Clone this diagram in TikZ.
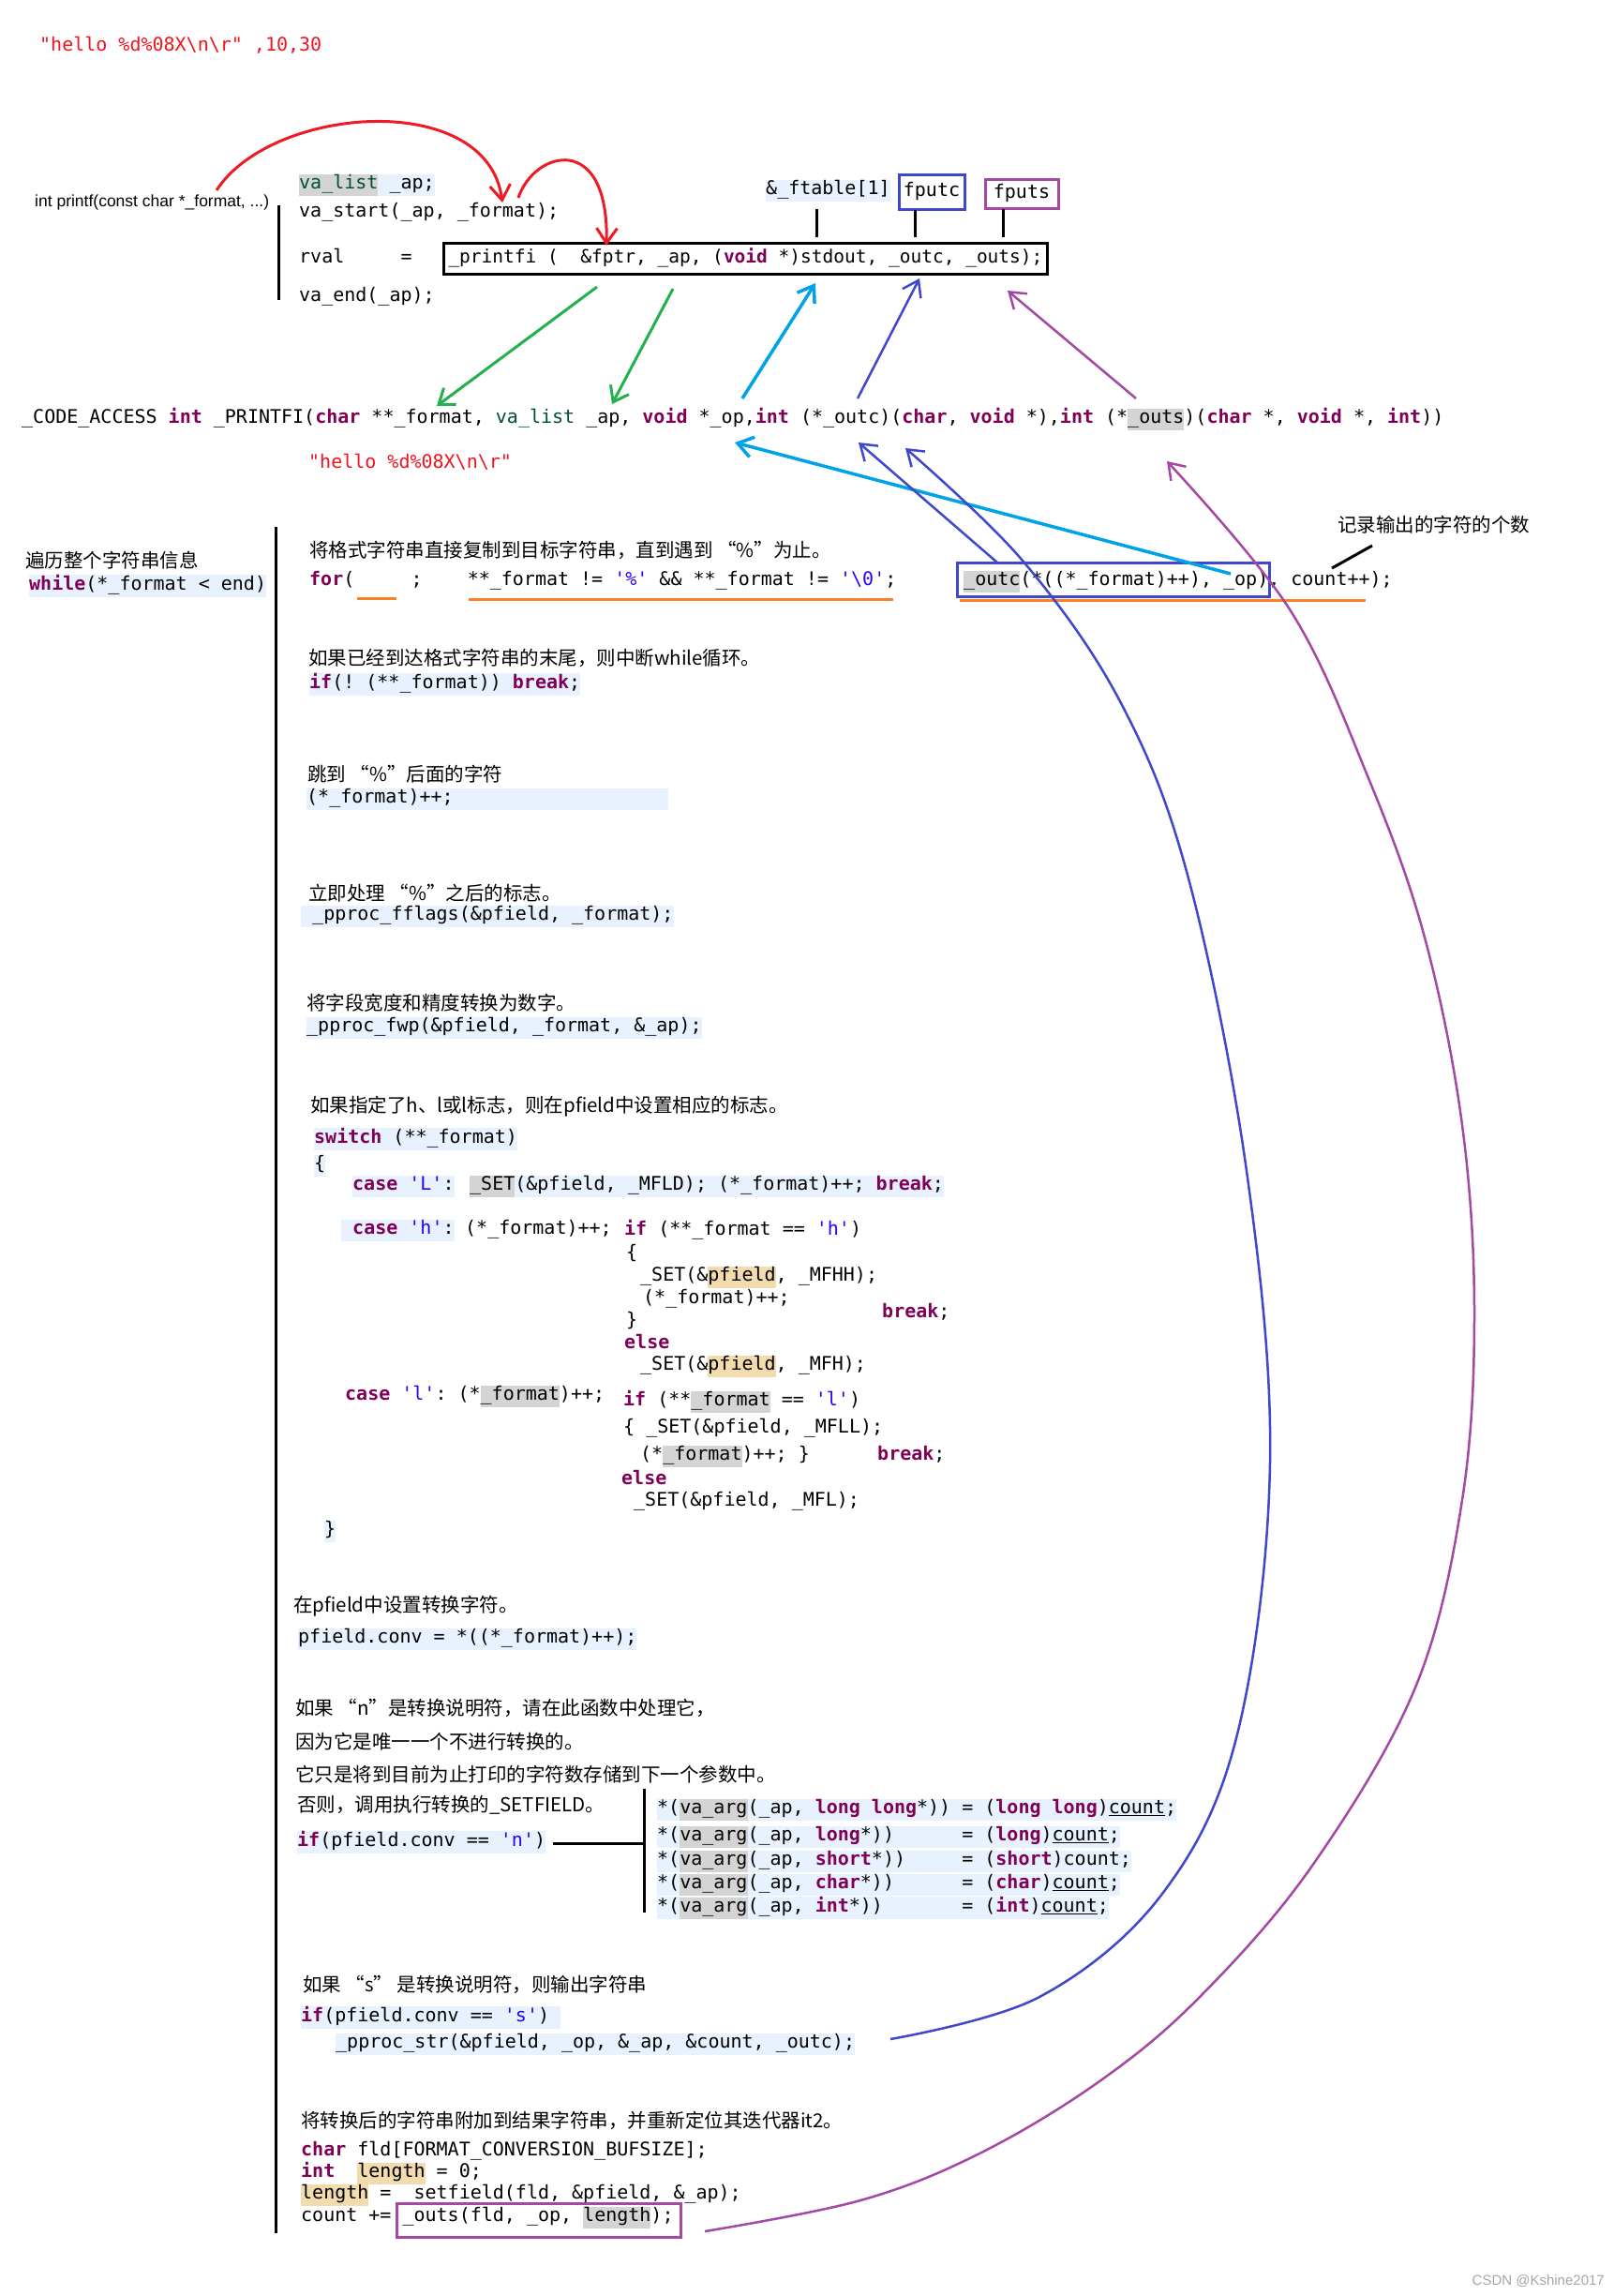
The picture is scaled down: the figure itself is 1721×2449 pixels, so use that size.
\documentclass[tikz,border=0pt]{standalone}
\usepackage{fontspec}
\setmainfont{Liberation Sans}
\setmonofont{DejaVu Sans Mono}
\newfontfamily\cjkf{Noto Sans CJK SC}
\usetikzlibrary{arrows.meta}
\definecolor{kwc}{HTML}{7F0055}
\definecolor{tyc}{HTML}{005032}
\definecolor{litc}{HTML}{2A00FF}
\definecolor{redt}{HTML}{F0141E}
\definecolor{hlblue}{HTML}{E8F2FE}
\definecolor{hlgray}{HTML}{D4D4D4}
\definecolor{hlor}{HTML}{F2DCAE}
\definecolor{redc}{HTML}{ED1C24}
\definecolor{grnc}{HTML}{22B14C}
\definecolor{cyac}{HTML}{00A2E8}
\definecolor{bluc}{HTML}{3F48CC}
\definecolor{purc}{HTML}{A349A4}
\definecolor{orac}{HTML}{FF7F27}
\newcommand\codef{\ttfamily\fontsize{20}{23}\selectfont}
\newcommand\codefb{\ttfamily\fontsize{19.5}{23}\selectfont}
\newcommand\cnfont{\cjkf\fontsize{20.5}{24}\selectfont}
\newcommand\kwd[1]{\textcolor{kwc}{\bfseries #1}}
\newcommand\typ[1]{\textcolor{tyc}{#1}}
\newcommand\lit[1]{\textcolor{litc}{#1}}
\newcommand\hlt[2]{{\setlength{\fboxsep}{0pt}\colorbox{#1}{\strut #2}}}
\newcommand\undl[1]{\underline{#1}}
\newcommand\spc[1]{\hspace*{#1\fontdimen2\font}}
\begin{document}
\begin{tikzpicture}[x=1pt,y=-1pt,
  code/.style={anchor=west,inner sep=0pt,font=\codef,execute at begin node=\strut},
  cn/.style={anchor=west,inner sep=0pt,font=\cnfont},
  bar/.style={line width=3pt,black},
  redarr/.style={draw=redc,line width=3pt,-{Straight Barb[length=16pt,width=22pt]}},
  grnarr/.style={draw=grnc,line width=3pt,-{Straight Barb[length=15pt,width=22pt]}},
  cyaarr/.style={draw=cyac,line width=3.5pt,-{Straight Barb[length=16pt,width=22pt]}},
  bluarr/.style={draw=bluc,line width=2.5pt,-{Straight Barb[length=16pt,width=22pt]}},
  purarr/.style={draw=purc,line width=2.5pt,-{Straight Barb[length=16pt,width=22pt]}},
  oraline/.style={draw=orac,line width=3pt},
]
\fill[white] (0,0) rectangle (1721,2449);
\useasboundingbox (0,0) rectangle (1721,2449);

% ---------- top block ----------
\node[code,text=redt] (hello) at (42,50) {"hello \%d\%08X\textbackslash n\textbackslash r" ,10,30};
\node[anchor=west,inner sep=0pt,font=\fontsize{17.5}{20}\selectfont] (sig) at (37,216) {int printf(const char *\_format, ...)};
\coordinate (bar1a) at (297,219);
\coordinate (bar1b) at (297,320);
\draw[bar] (bar1a) -- (bar1b);
\node[code] (valist) at (319,197) {\hlt{hlgray}{\typ{va\_list}}\hlt{hlblue}{\ \_ap;}};
\node[code] (vastart) at (319,227) {va\_start(\_ap, \_format);};
\node[code] (rval) at (319,276) {rval\spc{5}=};
\node[code,font=\codefb,draw=black,line width=3pt,inner xsep=5pt,inner ysep=5pt] (pfi) at (472,276)
  {\_printfi (\spc{2}\&fptr, \_ap, (\kwd{void} *)stdout, \_outc, \_outs);};
\node[code] (vaend) at (319,317) {va\_end(\_ap);};
\node[code,fill=hlblue] (ftab) at (817,203) {\&\_ftable[1]};
\node[code,anchor=center,draw=bluc,line width=3pt,minimum width=70pt,minimum height=37pt] (fputc) at (994,204.5) {fputc};
\node[code,anchor=center,draw=purc,line width=3pt,minimum width=78pt,minimum height=31pt] (fputs) at (1090,206.5) {fputs};
\coordinate (t1a) at (871,223); \coordinate (t1b) at (871,253);
\coordinate (t2a) at (976,224); \coordinate (t2b) at (976,253);
\coordinate (t3a) at (1070,223); \coordinate (t3b) at (1070,253);
\draw[bar] (t1a) -- (t1b);
\draw[bar] (t2a) -- (t2b);
\draw[bar] (t3a) -- (t3b);

% red arcs
\coordinate (r1s) at (231,203); \coordinate (r1e) at (536,216);
\coordinate (r2s) at (553,211); \coordinate (r2e) at (647,262);
\draw[redarr] (r1s) .. controls (290,112) and (520,95) .. (r1e);
\draw[redarr] (r2s) .. controls (570,160) and (650,140) .. (r2e);

% _PRINTFI line
\node[code] (pf) at (23,447) {\_CODE\_ACCESS \kwd{int} \_PRINTFI(\kwd{char} **\_format, \typ{va\_list} \_ap, \kwd{void} *\_op,\kwd{int} (*\_outc)(\kwd{char}, \kwd{void} *),\kwd{int} (*\hlt{hlgray}{\_outs})(\kwd{char} *, \kwd{void} *, \kwd{int}))};
\node[code,text=redt] (hello2) at (329,495) {"hello \%d\%08X\textbackslash n\textbackslash r"};

% short arrows
\coordinate (g1s) at (637,306); \coordinate (g1e) at (466,433);
\coordinate (g2s) at (718,308); \coordinate (g2e) at (653,431);
\coordinate (c1s) at (792,425); \coordinate (c1e) at (870,302);
\coordinate (b1s) at (915,425); \coordinate (b1e) at (981,297);
\coordinate (p1s) at (1212,425); \coordinate (p1e) at (1075,310);
\draw[grnarr] (g1s) -- (g1e);
\draw[grnarr] (g2s) -- (g2e);
\draw[cyaarr] (c1s) -- (c1e);
\draw[bluarr] (b1s) -- (b1e);
\draw[purarr] (p1s) -- (p1e);

% ---------- main loop ----------
\node[cn] (trav) at (27,598) {遍历整个字符串信息};
\node[code,fill=hlblue] (while) at (31,625) {\kwd{while}(*\_format < end)};
\coordinate (bar2a) at (294,562);
\coordinate (bar2b) at (294,2382);
\draw[bar] (bar2a) -- (bar2b);

\node[cn] (c1) at (330,587) {将格式字符串直接复制到目标字符串，直到遇到 “\%”为止。};
\node[code] (for) at (330,620) {\kwd{for}(\spc{5};\spc{4}**\_format != \lit{'\%'} \&\& **\_format != \lit{'\textbackslash 0'};};
\node[code] (outc) at (1028,620) {\hlt{hlgray}{\_outc}(*((*\_format)++), \_op), count++);};
\node[draw=bluc,line width=3pt,minimum width=333pt,minimum height=36pt,inner sep=0pt] (outcbox) at (1187.5,618) {};
\coordinate (o1a) at (381,638); \coordinate (o1b) at (423,638);
\coordinate (o2a) at (500,639); \coordinate (o2b) at (953,639);
\coordinate (o3a) at (1024,640); \coordinate (o3b) at (1457,640);
\draw[oraline] (o1a) -- (o1b);
\draw[oraline] (o2a) -- (o2b);
\draw[oraline] (o3a) -- (o3b);
\node[cn] (note) at (1427,560) {记录输出的字符的个数};
\coordinate (nl1) at (1464,582); \coordinate (nl2) at (1421,606);
\draw[line width=3pt] (nl1) -- (nl2);

\node[cn] (c2) at (329,702) {如果已经到达格式字符串的末尾，则中断while循环。};
\node[code,fill=hlblue] (ifbrk) at (330,730) {\kwd{if}(! (**\_format)) \kwd{break};};
\node[cn] (c3) at (328,826) {跳到 “\%”后面的字符};
\node[code,fill=hlblue] (inc1) at (327,852) {(*\_format)++;\spc{19}};
\node[cn] (c4) at (329,953) {立即处理 “\%”之后的标志。};
\node[code,fill=hlblue] (fflags) at (321,977) {\ \_pproc\_fflags(\&pfield, \_format);};
\node[cn] (c5) at (327,1070) {将字段宽度和精度转换为数字。};
\node[code,fill=hlblue] (fwp) at (327,1096) {\_pproc\_fwp(\&pfield, \_format, \&\_ap);};

% switch
\node[cn] (c6) at (331,1180) {如果指定了h、l或l标志，则在pfield中设置相应的标志。};
\node[code,fill=hlblue] (sw) at (335,1215) {\kwd{switch} (**\_format)};
\node[code,fill=hlblue] (lb) at (335,1243) {\{};
\node[code,fill=hlblue] (caseL) at (376,1265) {\kwd{case} \lit{'L'}:};
\node[code,fill=hlblue] (setL) at (501,1265) {\hlt{hlgray}{\_SET}(\&pfield, \_MFLD); (*\_format)++; \kwd{break};};
\node[code,fill=hlblue] (caseh) at (364,1312) {\ \kwd{case} \lit{'h'}:};
\node[code] (inch) at (496,1312) {(*\_format)++;};
\node[code] (ifh) at (666,1313) {\kwd{if} (**\_format == \lit{'h'})};
\node[code] (lbh) at (668,1338) {\{};
\node[code] (setHH) at (683,1362) {\_SET(\&\hlt{hlor}{pfield}, \_MFHH);};
\node[code] (inch2) at (686,1386) {(*\_format)++;};
\node[code] (brkh) at (941,1401) {\kwd{break};};
\node[code] (rbh) at (668,1410) {\}};
\node[code] (elseh) at (666,1434) {\kwd{else}};
\node[code] (setH) at (683,1457) {\_SET(\&\hlt{hlor}{pfield}, \_MFH);};
\node[code] (casel) at (368,1489) {\kwd{case} \lit{'l'}: (*\hlt{hlgray}{\_format})++;};
\node[code] (ifl) at (665,1495) {\kwd{if} (**\hlt{hlgray}{\_format} == \lit{'l'})};
\node[code] (setLL) at (665,1524) {\{ \_SET(\&pfield, \_MFLL);};
\node[code] (incl) at (683,1553) {(*\hlt{hlgray}{\_format})++; \}};
\node[code] (brkl) at (936,1553) {\kwd{break};};
\node[code] (elsel) at (663,1579) {\kwd{else}};
\node[code] (setl) at (676,1602) {\_SET(\&pfield, \_MFL);};
\node[code,fill=hlblue] (rb) at (346,1633) {\}};

% conv
\node[cn] (c7) at (313,1713) {在pfield中设置转换字符。};
\node[code,fill=hlblue] (conv) at (318,1748) {pfield.conv = *((*\_format)++);};
\node[cn] (c8) at (315,1822) {如果 “n”是转换说明符，请在此函数中处理它，};
\node[cn] (c9) at (315,1858) {因为它是唯一一个不进行转换的。};
\node[cn] (c10) at (315,1893) {它只是将到目前为止打印的字符数存储到下一个参数中。};
\node[cn] (c11) at (317,1925) {否则，调用执行转换的\_SETFIELD。};
\node[code,fill=hlblue] (ifn) at (317,1965) {\kwd{if}(pfield.conv == \lit{'n'})};
\coordinate (h1) at (590,1966); \coordinate (h2) at (687,1966);
\coordinate (v1) at (687,1908); \coordinate (v2) at (687,2040);
\draw[bar] (h1) -- (h2);
\draw[bar] (v1) -- (v2);
\node[code,fill=hlblue] (va1) at (701,1930) {*(\hlt{hlgray}{va\_arg}(\_ap, \kwd{long} \kwd{long}*)) = (\kwd{long} \kwd{long})\undl{count};};
\node[code,fill=hlblue] (va2) at (701,1959) {*(\hlt{hlgray}{va\_arg}(\_ap, \kwd{long}*))\spc{6}= (\kwd{long})\undl{count};};
\node[code,fill=hlblue] (va3) at (701,1985) {*(\hlt{hlgray}{va\_arg}(\_ap, \kwd{short}*))\spc{5}= (\kwd{short})count;};
\node[code,fill=hlblue] (va4) at (701,2010) {*(\hlt{hlgray}{va\_arg}(\_ap, \kwd{char}*))\spc{6}= (\kwd{char})\undl{count};};
\node[code,fill=hlblue] (va5) at (701,2035) {*(\hlt{hlgray}{va\_arg}(\_ap, \kwd{int}*))\spc{7}= (\kwd{int})\undl{count};};

% s
\node[cn] (c12) at (323,2117) {如果 “s” 是转换说明符，则输出字符串};
\node[code,fill=hlblue] (ifs) at (321,2152) {\kwd{if}(pfield.conv == \lit{'s'})\spc{1}};
\node[code,fill=hlblue] (pstr) at (358,2180) {\_pproc\_str(\&pfield, \_op, \&\_ap, \&count, \_outc);};

% append
\node[cn] (c13) at (321,2262) {将转换后的字符串附加到结果字符串，并重新定位其迭代器it2。};
\node[code] (fld) at (321,2295) {\kwd{char} fld[FORMAT\_CONVERSION\_BUFSIZE];};
\node[code] (len0) at (321,2318) {\kwd{int}\spc{2}\hlt{hlor}{length} = 0;};
\node[code] (lenset) at (321,2341) {\hlt{hlor}{length} = \_setfield(fld, \&pfield, \&\_ap);};
\node[code] (cnt) at (321,2365) {count += \_outs(fld, \_op, \hlt{hlgray}{length});};
\node[draw=purc,line width=3pt,minimum width=303pt,minimum height=36pt,inner sep=0pt] (outsbox) at (574.5,2368) {};

% long connectors
\coordinate (cys) at (1313,612); \coordinate (cye) at (784,472);
\draw[cyaarr] (cys) -- (cye);
\coordinate (b2s) at (1064,600); \coordinate (b2e) at (916,472);
\draw[bluarr] (b2s) -- (b2e);
\coordinate (b3s) at (950,2175); \coordinate (b3e) at (966,478);
\draw[bluarr] plot[smooth,tension=0.6] coordinates {(b3s) (1109,2130) (1240,2020) (1320,1850) (1355,1560) (1330,1249) (1268,937) (1196,750) (1091,598) (b3e)};
\coordinate (p2s) at (752,2380); \coordinate (p2e) at (1245,492);
\draw[purarr] plot[smooth,tension=0.6] coordinates {(p2s) (918,2347) (1045,2297) (1173,2220) (1280,2130) (1400,1990) (1510,1800) (1560,1600) (1573,1400) (1560,1200) (1520,1000) (1460,830) (1376,650) (p2e)};

\node[anchor=east,inner sep=0pt,text=black!35,font=\fontsize{15}{18}\selectfont] (wm) at (1712,2433) {CSDN @Kshine2017};
\end{tikzpicture}
\end{document}
